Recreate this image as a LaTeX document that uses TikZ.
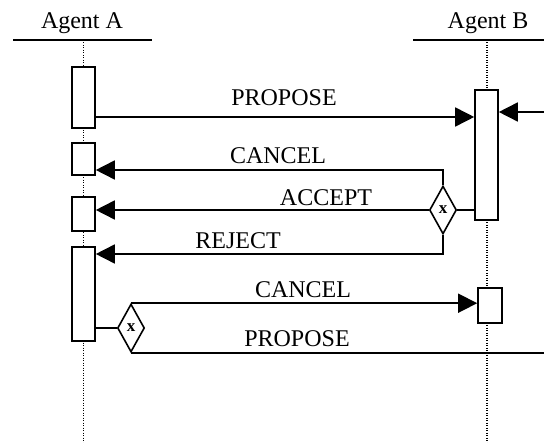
\documentclass[tikz,border=0pt]{standalone}
\usepackage{fontspec}
\setmainfont{Liberation Serif}
\usetikzlibrary{shapes.geometric,arrows.meta}
\begin{document}
\begin{tikzpicture}[x=1bp,y=-1bp,
  font=\fontsize{24bp}{28bp}\selectfont,
  actbox/.style={draw,fill=white,line width=1.6bp,inner sep=0pt,minimum width=23bp},
  choice/.style={draw,fill=white,diamond,line width=1.6bp,inner sep=0pt,minimum width=27bp,minimum height=48bp,font=\fontsize{17bp}{17bp}\selectfont\bfseries},
  msg/.style={line width=1.6bp},
  arr/.style={msg,-{Triangle[length=19bp,width=19bp]}},
  life/.style={line width=1.1bp,dash pattern=on 1bp off 1.5bp},
  head/.style={line width=1.6bp},
  lbl/.style={anchor=base,inner sep=0pt}]
\useasboundingbox (0,0) rectangle (544,443);
% headers
\node[lbl] (hA) at (82,29) {Agent A};
\node[lbl] (hB) at (488,29) {Agent B};
\coordinate (hAl) at (13,40); \coordinate (hAr) at (152,40);
\coordinate (hBl) at (413,40); \coordinate (hBr) at (544,40);
\draw[head] (hAl) -- (hAr);
\draw[head] (hBl) -- (hBr);
% lifelines
\coordinate (lAt) at (83.5,40); \coordinate (lAb) at (83.5,443);
\coordinate (lBt) at (487,40); \coordinate (lBb) at (487,443);
\draw[life] (lAt) -- (lAb);
\draw[life] (lBt) -- (lBb);
% activation boxes
\node[actbox,minimum height=61bp] (A1) at (83.5,97.5) {};
\node[actbox,minimum height=32bp] (A2) at (83.5,159) {};
\node[actbox,minimum height=34bp] (A3) at (83.5,214) {};
\node[actbox,minimum height=94bp] (A4) at (83.5,294) {};
\node[actbox,minimum height=130bp] (B1) at (486.5,155) {};
\node[actbox,minimum height=35bp,minimum width=24bp] (B2) at (490,305.5) {};
% decisions
\node[choice] (D1) at (443,210) {x};
\node[choice] (D2) at (131,328) {x};
% y levels
\coordinate (yP) at (0,117);
\coordinate (yC) at (0,170);
\coordinate (yR) at (0,254);
\coordinate (inR) at (544,112);
\coordinate (outR) at (544,352);
% messages
\draw[arr] (A1.east |- yP) -- (B1.west |- yP);
\draw[arr] (inR) -- (B1.east |- inR);
\draw[arr] (D1.north) |- (A2.east |- yC);
\draw[arr] (D1.west) -- (A3.east |- D1.west);
\draw[msg] (D1.east) -- (B1.west |- D1.east);
\draw[arr] (D1.south) |- (A4.east |- yR);
\draw[msg] (A4.east |- D2.west) -- (D2.west);
\draw[arr] (D2.north) -- (B2.west |- D2.north);
\draw[msg] (D2.south) -- (outR |- D2.south);
% labels
\node[lbl] (lP1) at (284,106) {PROPOSE};
\node[lbl] (lC1) at (278,164) {CANCEL};
\node[lbl] (lA) at (326,206) {ACCEPT};
\node[lbl] (lR) at (238,249) {REJECT};
\node[lbl] (lC2) at (303,297) {CANCEL};
\node[lbl] (lP2) at (297,346) {PROPOSE};
\end{tikzpicture}
\end{document}
